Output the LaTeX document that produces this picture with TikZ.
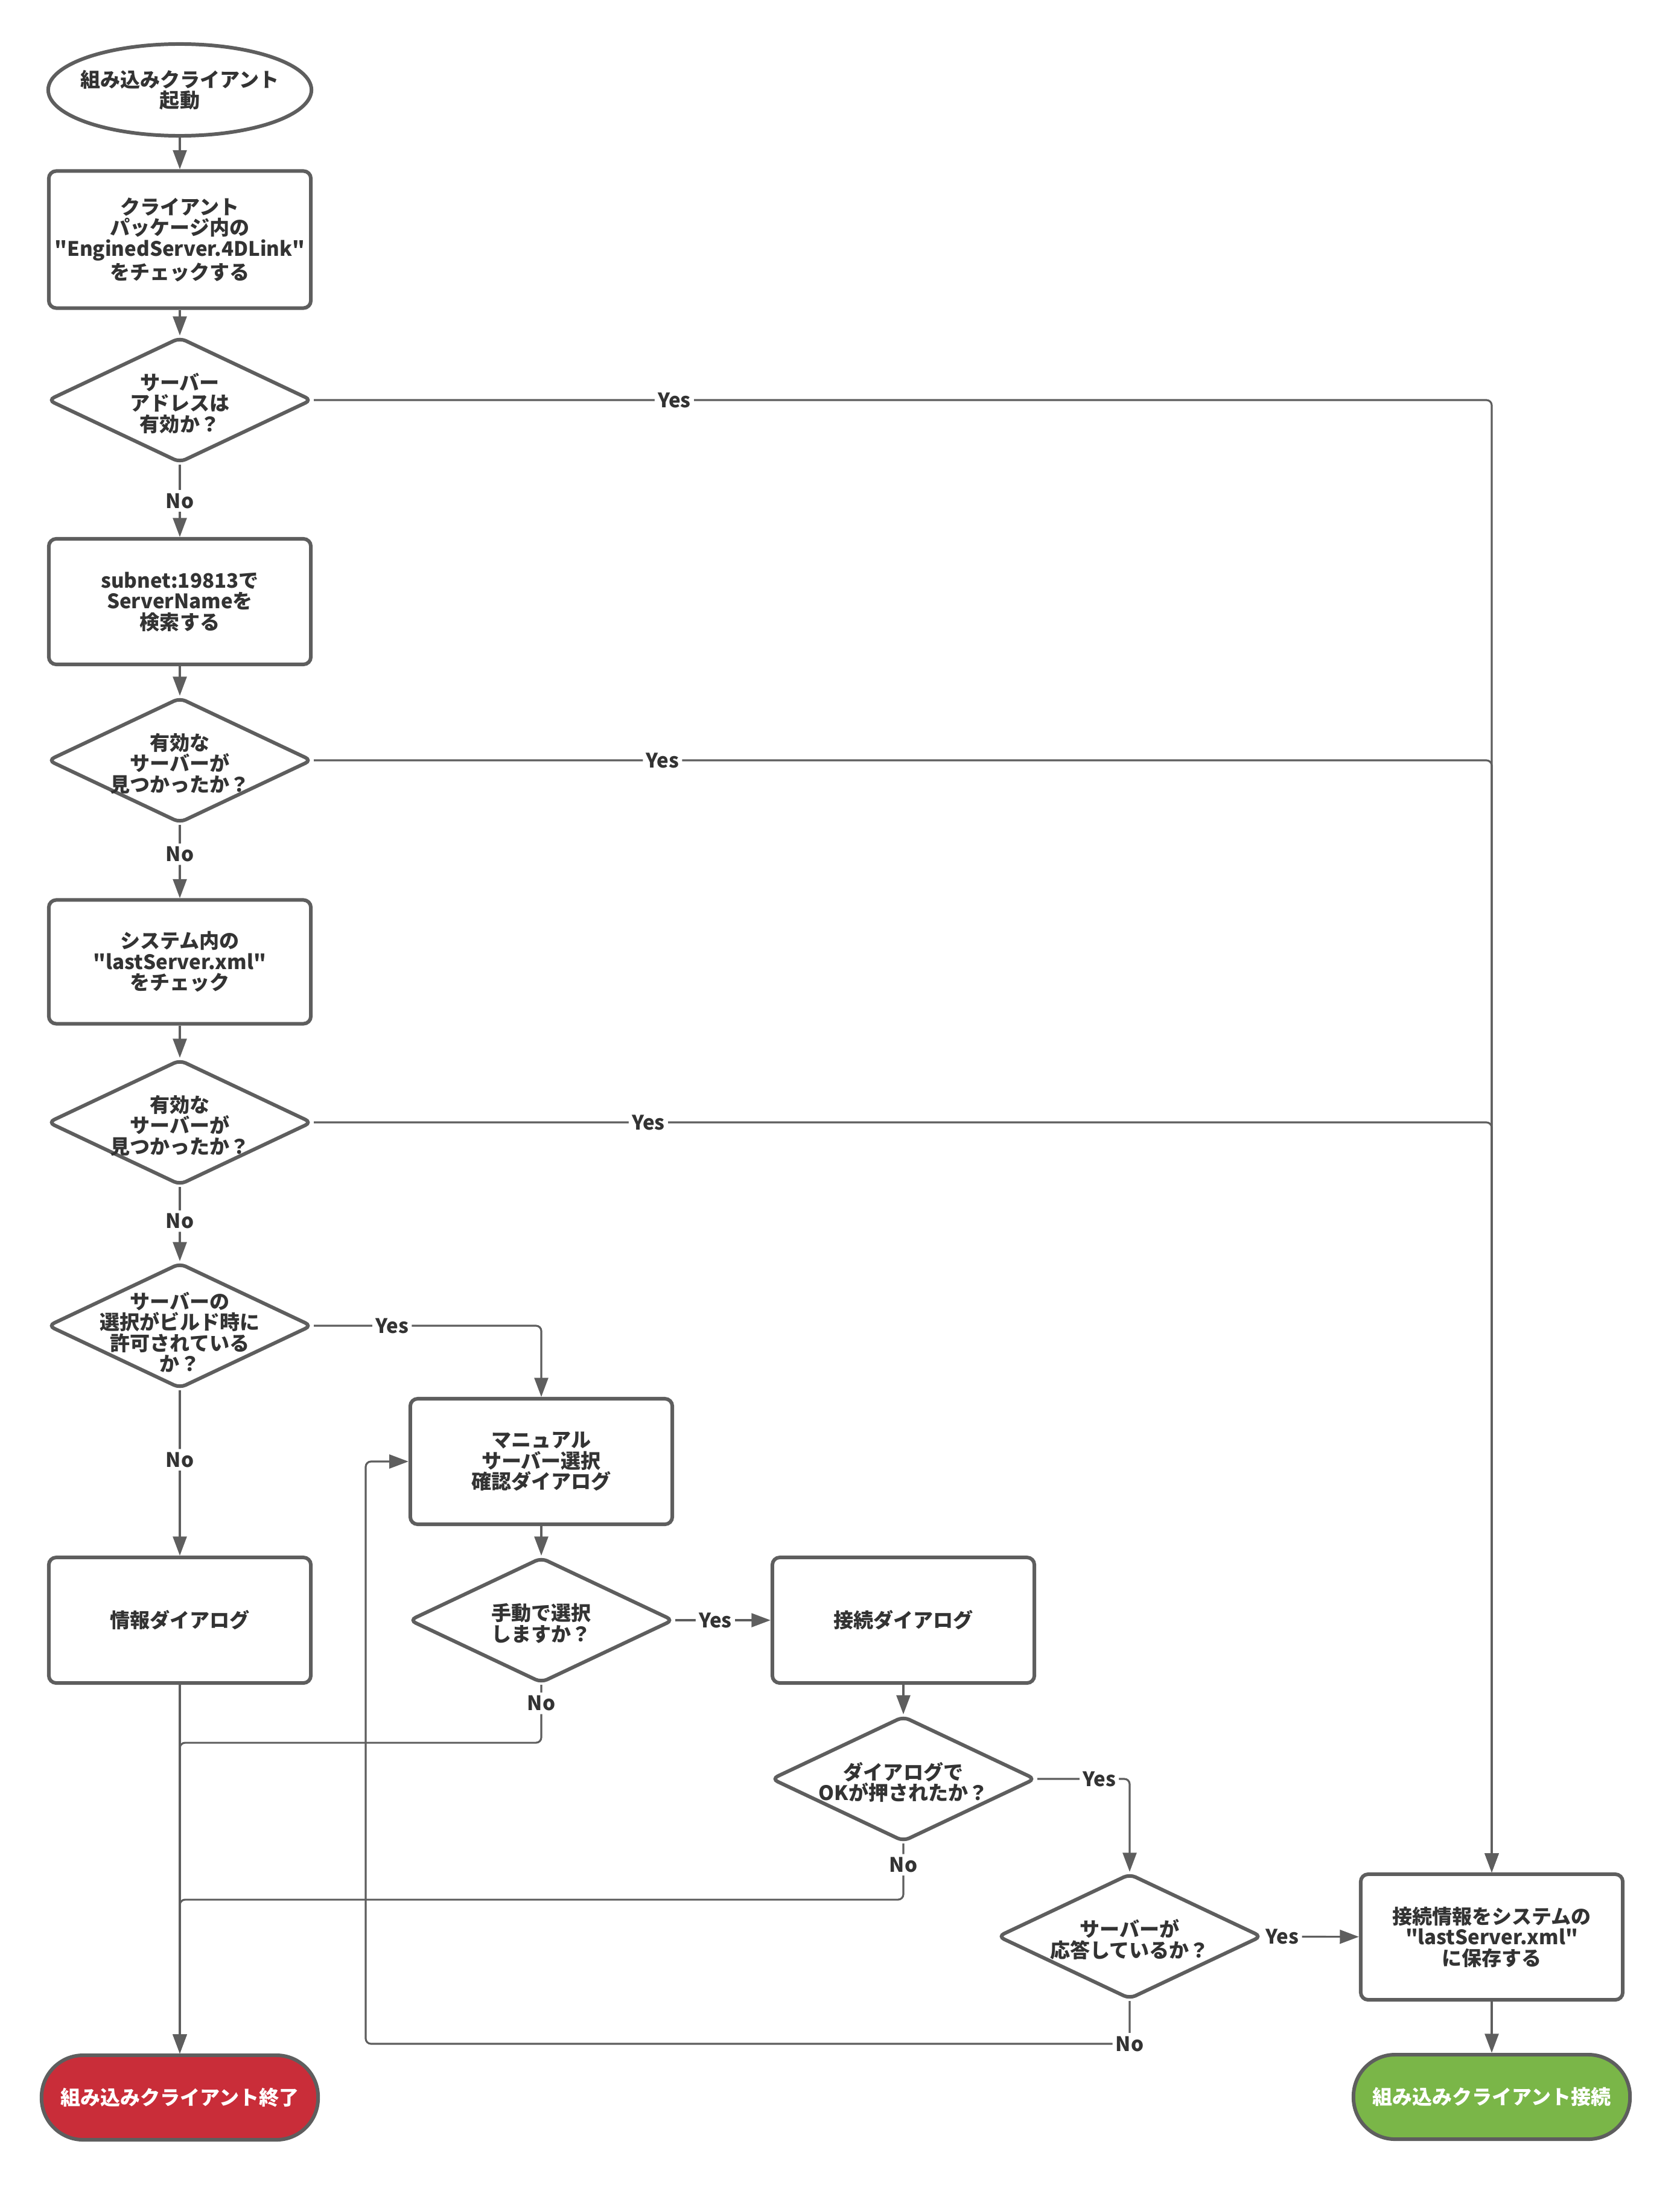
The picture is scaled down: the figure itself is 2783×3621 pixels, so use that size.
\documentclass[tikz,border=0pt]{standalone}
\usepackage{fontspec}
\newfontfamily\jpfont{Noto Sans CJK JP}
\usetikzlibrary{shapes.geometric,arrows.meta}
\definecolor{linegray}{HTML}{5E5E5E}
\definecolor{textgray}{HTML}{333333}
\definecolor{stopred}{HTML}{C92D39}
\definecolor{okgreen}{HTML}{7AB648}
\begin{document}
\begin{tikzpicture}[x=0.01cm,y=-0.01cm,
    every node/.style={font=\jpfont\fontsize{9.4}{9.8}\selectfont\bfseries,text=textgray,align=center},
    proc/.style={draw=linegray,line width=1.7pt,fill=white,rounded corners=3.5pt,
      minimum width=4.34cm,minimum height=2.08cm,inner sep=0pt},
    decision/.style={diamond,draw=linegray,line width=1.7pt,fill=white,rounded corners=3pt,
      shape aspect=2.08,minimum width=4.38cm,minimum height=2.08cm,inner sep=0pt},
    startnode/.style={ellipse,draw=linegray,line width=1.7pt,fill=white,
      minimum width=4.36cm,minimum height=1.52cm,inner sep=0pt},
    term/.style={rectangle,draw=linegray,line width=1.7pt,rounded corners=0.69cm,
      minimum width=4.58cm,minimum height=1.40cm,inner sep=0pt},
    flow/.style={draw=linegray,line width=0.9pt,rounded corners=2.5pt,
      -{Triangle[length=9pt,width=6.5pt]}},
    lbl/.style={fill=white,inner sep=1.5pt},
    every label/.style={yshift=-1.5pt}]
    \def\cA{298}
    \def\cB{897}
    \def\cC{1497}
    \def\cD{1872}
    \def\cE{2472}
    \useasboundingbox (0,0) rectangle (2783,3621);
    \node [startnode,label={[yshift=1.5pt]center:組み込みクライアント\\起動}] (A0_0) at (\cA,149) {};
    \node [proc,minimum height=2.27cm] (A1_0) at (\cA,397)
      {クライアント\\パッケージ内の\\"EnginedServer.4DLink"\\をチェックする};
    \node [decision,label={center:サーバー\\アドレスは\\有効か？}] (A2_0) at (\cA,663) {};
    \node [proc] (A3_0) at (\cA,997) {subnet:19813で\\ServerNameを\\検索する};
    \node [decision,label={center:有効な\\サーバーが\\見つかったか？}] (A4_0) at (\cA,1260) {};
    \node [proc,minimum height=2.05cm] (A5_0) at (\cA,1594) {システム内の\\"lastServer.xml"\\をチェック};
    \node [decision,label={center:有効な\\サーバーが\\見つかったか？}] (A6_0) at (\cA,1860) {};
    \node [decision,label={[yshift=-1.5pt]center:サーバーの\\選択がビルド時に\\許可されている\\か？}] (A7_0) at (\cA,2197) {};
    \node [proc] (A8_1) at (\cB,2422) {マニュアル\\サーバー選択\\確認ダイアログ};
    \node [proc] (A9_0) at (\cA,2685) {情報ダイアログ};
    \node [decision,label={center:手動で選択\\しますか？}] (A9_1) at (\cB,2685) {};
    \node [proc] (A9_2) at (\cC,2685) {接続ダイアログ};
    \node [decision,label={center:ダイアログで\\OKが押されたか？}] (A10_2) at (\cC,2948) {};
    \node [decision,label={center:サーバーが\\応答しているか？}] (A11_3) at (\cD,3209) {};
    \node [proc] (A11_4) at (\cE,3210) {接続情報をシステムの\\"lastServer.xml"\\に保存する};
    \node [term,fill=stopred,text=white] (A12_0) at (\cA,3476) {組み込みクライアント終了};
    \node [term,fill=okgreen,text=white] (A12_4) at (\cE,3475) {組み込みクライアント接続};
    \coordinate (back) at (606,3387);
    \path (A0_0) edge [flow] (A1_0);
    \path (A1_0) edge [flow] (A2_0);
    \path (A2_0) edge [flow] node [lbl] {No} (A3_0);
    \path (A3_0) edge [flow] (A4_0);
    \path (A4_0) edge [flow] node [lbl,pos=0.4] {No} (A5_0);
    \path (A5_0) edge [flow] (A6_0);
    \path (A6_0) edge [flow] node [lbl,pos=0.46] {No} (A7_0);
    \path (A7_0) edge [flow] node [lbl,pos=0.42] {No} (A9_0);
    \path (A8_1) edge [flow] (A9_1);
    \path (A9_1) edge [flow] node [lbl,pos=0.42] {Yes} (A9_2);
    \path (A9_0) edge [flow] (A12_0);
    \path (A9_2) edge [flow] (A10_2);
    \path (A11_3) edge [flow] node [lbl,pos=0.2] {Yes} (A11_4);
    \path (A11_4) edge [flow] (A12_4);
    \draw [flow] (A2_0.east) -| node [lbl,pos=0.153] {Yes} (A11_4.north);
    \draw [flow] (A4_0.east) -| node [lbl,pos=0.148] {Yes} (A11_4.north);
    \draw [flow] (A6_0.east) -| node [lbl,pos=0.142] {Yes} (A11_4.north);
    \draw [flow] (A7_0.east) -| node [lbl,pos=0.172] {Yes} (A8_1.north);
    \draw [flow] (A10_2.east) -| node [lbl,pos=0.335] {Yes} (A11_3.north);
    \draw [flow] (A9_1.south) -- node [lbl,pos=0.32] {No} ++(0,96) -| (A12_0.north);
    \draw [flow] (A10_2.south) -- node [lbl,pos=0.38] {No} ++(0,93) -| (A12_0.north);
    \draw [flow] (A11_3.south) |- node [lbl] {No} (back) |- (A8_1.west);
  \end{tikzpicture}
\end{document}
